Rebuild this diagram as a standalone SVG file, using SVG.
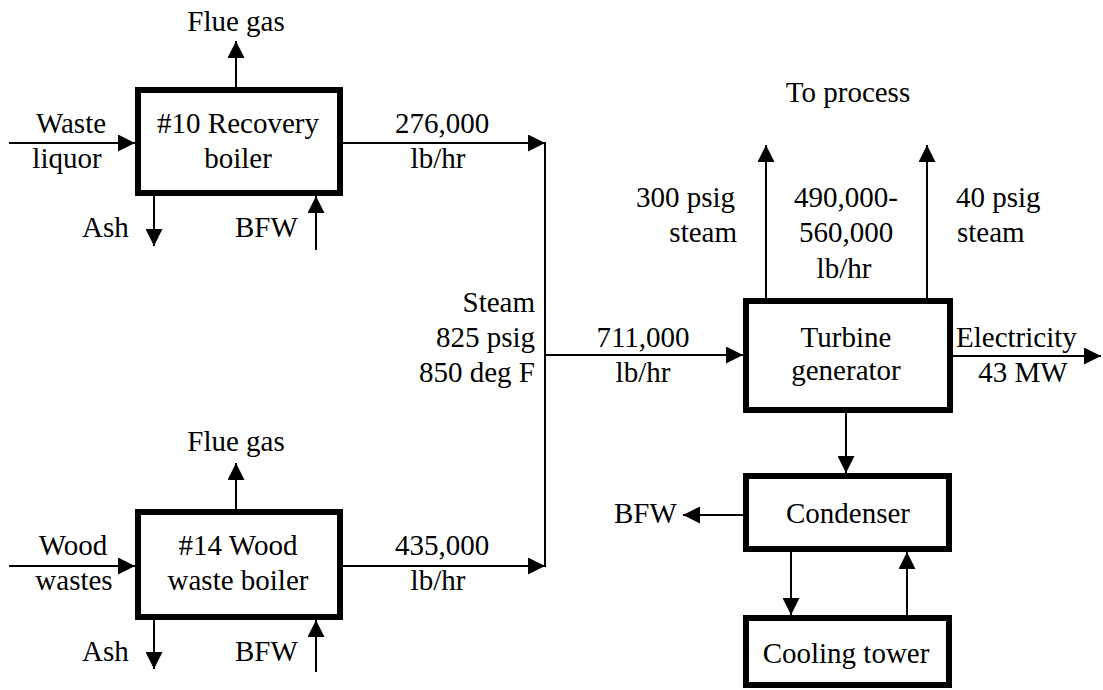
<svg xmlns="http://www.w3.org/2000/svg" width="1103" height="690" viewBox="0 0 1103 690">
<style>
.box{fill:#fff;stroke:#000;stroke-width:6}
.ln{fill:none;stroke:#000;stroke-width:2}
.ar{marker-end:url(#ah)}
text{font-size:29px;fill:#000}
.m{text-anchor:middle}
.e{text-anchor:end}
</style>
<defs>
<marker id="ah" markerUnits="userSpaceOnUse" markerWidth="17" markerHeight="17" refX="17" refY="8.5" orient="auto">
<path d="M0,0 L17,8.5 L0,17 Z" fill="#000"/>
</marker>
</defs>
<rect width="1103" height="690" fill="#fff"/>
<g id="connectors">
<line class="ln ar" x1="236" y1="87" x2="236" y2="41"/>
<line class="ln ar" x1="9" y1="143" x2="135" y2="143"/>
<line class="ln ar" x1="343" y1="143" x2="545" y2="143"/>
<line class="ln ar" x1="154" y1="196" x2="154" y2="246"/>
<line class="ln ar" x1="316" y1="250" x2="316" y2="196"/>
<line class="ln" x1="545" y1="142" x2="545" y2="567"/>
<line class="ln ar" x1="236" y1="509" x2="236" y2="463"/>
<line class="ln ar" x1="9" y1="566" x2="135" y2="566"/>
<line class="ln ar" x1="343" y1="566" x2="545" y2="566"/>
<line class="ln ar" x1="154" y1="620" x2="154" y2="669"/>
<line class="ln ar" x1="316" y1="672" x2="316" y2="620"/>
<line class="ln ar" x1="545" y1="355" x2="743" y2="355"/>
<line class="ln ar" x1="766" y1="298" x2="766" y2="145"/>
<line class="ln ar" x1="927" y1="298" x2="927" y2="145"/>
<line class="ln ar" x1="953" y1="356" x2="1101" y2="356"/>
<line class="ln ar" x1="846" y1="413" x2="846" y2="473"/>
<line class="ln ar" x1="743" y1="515" x2="683" y2="515"/>
<line class="ln ar" x1="791" y1="552" x2="791" y2="615"/>
<line class="ln ar" x1="907" y1="615" x2="907" y2="552"/>
</g>
<g font-family="Liberation Serif, Tinos, DejaVu Serif, Noto Serif, Times New Roman, serif">
<g id="labels">
<text class="m" x="236" y="31">Flue gas</text>
<text class="m" x="71" y="133">Waste</text>
<text class="m" x="67" y="168">liquor</text>
<text class="m" x="442" y="133">276,000</text>
<text class="m" x="438" y="168">lb/hr</text>
<text x="82" y="237">Ash</text>
<text x="235" y="237">BFW</text>
<text class="m" x="236" y="451">Flue gas</text>
<text class="m" x="73" y="555">Wood</text>
<text class="m" x="74" y="590">wastes</text>
<text class="m" x="442" y="555">435,000</text>
<text class="m" x="438" y="590">lb/hr</text>
<text x="82" y="661">Ash</text>
<text x="235" y="661">BFW</text>
<text class="e" x="535" y="312">Steam</text>
<text class="e" x="535" y="347">825 psig</text>
<text class="e" x="535" y="382">850 deg F</text>
<text class="m" x="643" y="347">711,000</text>
<text class="m" x="643" y="382">lb/hr</text>
<text class="m" x="848" y="102">To process</text>
<text class="e" x="735" y="207">300 psig</text>
<text class="e" x="737" y="242">steam</text>
<text class="m" x="846" y="207">490,000-</text>
<text class="m" x="846" y="242">560,000</text>
<text class="m" x="844" y="278">lb/hr</text>
<text x="956" y="207">40 psig</text>
<text x="957" y="242">steam</text>
<text x="956" y="347">Electricity</text>
<text class="m" x="1023" y="382">43 MW</text>
<text x="614" y="523">BFW</text>
</g>
<g id="recovery-boiler">
<rect class="box" x="138" y="90" width="202" height="103"/>
<text class="m" x="238" y="133">#10 Recovery</text>
<text class="m" x="238" y="168">boiler</text>
</g>
<g id="wood-boiler">
<rect class="box" x="138" y="512" width="202" height="105"/>
<text class="m" x="238" y="555">#14 Wood</text>
<text class="m" x="238" y="590">waste boiler</text>
</g>
<g id="turbine-generator">
<rect class="box" x="746" y="301" width="204" height="109"/>
<text class="m" x="846" y="347">Turbine</text>
<text class="m" x="846" y="380">generator</text>
</g>
<g id="condenser">
<rect class="box" x="746" y="476" width="203" height="73"/>
<text class="m" x="848" y="523">Condenser</text>
</g>
<g id="cooling-tower">
<rect class="box" x="746" y="618" width="203" height="67"/>
<text class="m" x="846" y="663">Cooling tower</text>
</g>
</g>
</svg>
